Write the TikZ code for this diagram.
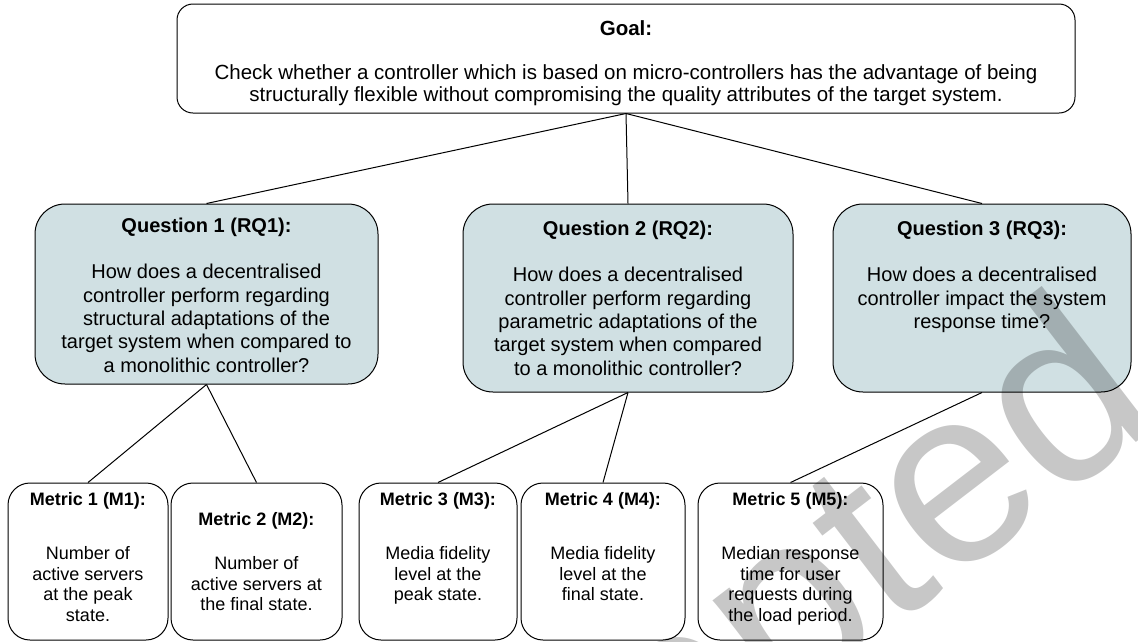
\documentclass[tikz,border=0pt]{standalone}
\usepackage{fontspec}
\setmainfont{Liberation Sans}
\definecolor{qfill}{HTML}{D0E0E3}
\begin{document}
\begin{tikzpicture}[x=1pt,y=-1pt,
  box/.style={draw=black, line width=1pt, inner sep=0pt},
  goalbox/.style={box, rounded corners=16pt, fill=white},
  qbox/.style={box, rounded corners=30pt, fill=qfill},
  mbox/.style={box, rounded corners=22pt, fill=white},
  gtext/.style={align=center, inner sep=0pt, anchor=north, font=\fontsize{20.5}{22}\selectfont},
  qtext/.style={align=center, inner sep=0pt, anchor=north, font=\fontsize{20}{23.3}\selectfont},
  mtext/.style={align=center, inner sep=0pt, anchor=north, font=\fontsize{18}{20.7}\selectfont},
  link/.style={draw=black, line width=1pt}
]
\useasboundingbox (0,0) rectangle (1138,641);
\fill[white] (0,0) rectangle (1138,641);

% goal
\node[goalbox, minimum width=898pt, minimum height=109pt] (goal) at (626,58.5) {};
\node[gtext] (goaltxt) at (626,20.4) {\textbf{Goal:}\\[22pt]
  Check whether a controller which is based on micro-controllers has the advantage of being\\
  structurally flexible without compromising the quality attributes of the target system.};

% research questions
\node[qbox, minimum width=343pt, minimum height=180pt] (q1) at (206.5,294) {};
\node[qbox, minimum width=330pt, minimum height=188pt] (q2) at (628,298) {};
\node[qbox, minimum width=298pt, minimum height=188pt] (q3) at (982,298) {};

\node[qtext] (q1txt) at (206.5,217.6) {\textbf{Question 1 (RQ1):}\\[23.3pt]
  How does a decentralised\\ controller perform regarding\\ structural adaptations of the\\
  target system when compared to\\ a monolithic controller?};
\node[qtext] (q2txt) at (628,220.6) {\textbf{Question 2 (RQ2):}\\[23.3pt]
  How does a decentralised\\ controller perform regarding\\ parametric adaptations of the\\
  target system when compared\\ to a monolithic controller?};
\node[qtext] (q3txt) at (982,220.6) {\textbf{Question 3 (RQ3):}\\[23.3pt]
  How does a decentralised\\ controller impact the system\\ response time?};

% metrics
\node[mbox, minimum width=160pt, minimum height=157pt] (m1) at (88,561.5) {};
\node[mbox, minimum width=171pt, minimum height=157pt] (m2) at (256.5,561.5) {};
\node[mbox, minimum width=158pt, minimum height=157pt] (m3) at (438,561.5) {};
\node[mbox, minimum width=164pt, minimum height=157pt] (m4) at (603,561.5) {};
\node[mbox, minimum width=185pt, minimum height=157pt] (m5) at (790.5,561.5) {};

\node[mtext] (m1txt) at (88,492.3) {\textbf{Metric 1 (M1):}\\[33.3pt]
  Number of\\ active servers\\ at the peak\\ state.};
\node[mtext] (m2txt) at (256.5,512.3) {\textbf{Metric 2 (M2):}\\[23.3pt]
  Number of\\ active servers at\\ the final state.};
\node[mtext] (m3txt) at (438,492.3) {\textbf{Metric 3 (M3):}\\[33.3pt]
  Media fidelity\\ level at the\\ peak state.};
\node[mtext] (m4txt) at (603,492.3) {\textbf{Metric 4 (M4):}\\[33.3pt]
  Media fidelity\\ level at the\\ final state.};
\node[mtext] (m5txt) at (790.5,492.3) {\textbf{Metric 5 (M5):}\\[33.3pt]
  Median response\\ time for user\\ requests during\\ the load period.};

% tree connectors
\draw[link] (goal.south) -- (q1.north);
\draw[link] (goal.south) -- (q2.north);
\draw[link] (goal.south) -- (q3.north);
\draw[link] (q1.south) -- (m1.north);
\draw[link] (q1.south) -- (m2.north);
\draw[link] (q2.south) -- (m3.north);
\draw[link] (q2.south) -- (m4.north);
\draw[link] (q3.south) -- (m5.north);

% status stamp
\begin{scope}
  \clip (0,0) rectangle (1138,641);
  \node[rotate=37.5, anchor=base west, text=black, opacity=0.22, inner sep=0pt,
        font=\fontsize{250}{250}\selectfont] (stamp) at (339,1054) {Accepted};
\end{scope}
\end{tikzpicture}
\end{document}
